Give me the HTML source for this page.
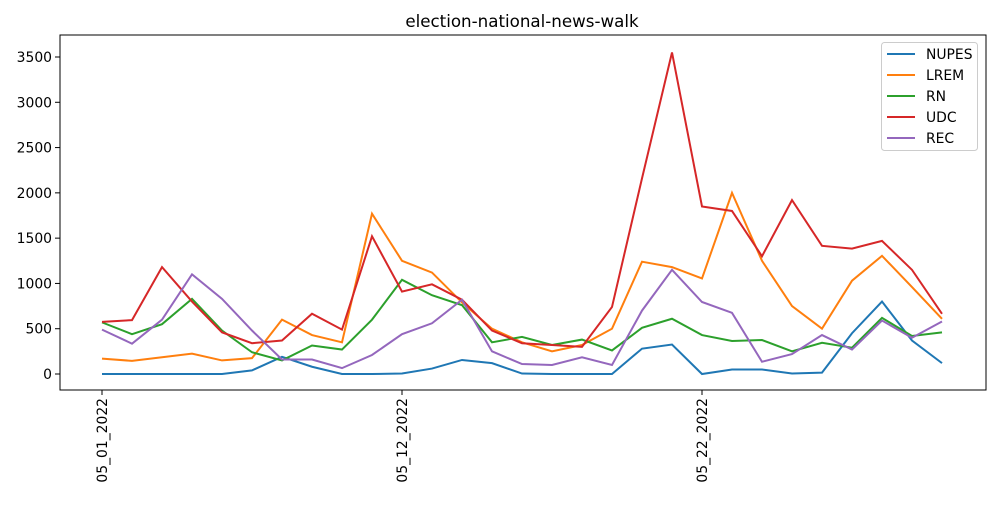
<!DOCTYPE html>
<html><head><meta charset="utf-8"><style>
body{margin:0;background:#fff;font-family:"Liberation Sans","DejaVu Sans",sans-serif;}
svg text{font-family:"DejaVu Sans","Liberation Sans",sans-serif;}
</style></head><body>
<svg id="chart" width="1000" height="500" xmlns="http://www.w3.org/2000/svg"></svg>
<script>
const categories=["05_01_2022","05_02","05_03","05_04","05_05","05_06","05_07","05_08","05_09","05_10","05_12_2022","05_13","05_14","05_15","05_16","05_17","05_18","05_19","05_20","05_21","05_22_2022","05_23","05_24","05_25","05_26","05_27","05_28","05_29","05_30"];
const tickIdx=[0,10,20];
const yTicks=[0,500,1000,1500,2000,2500,3000,3500];
const seriesNames=["NUPES","LREM","RN","UDC","REC"];
const colors=["#1f77b4","#ff7f0e","#2ca02c","#d62728","#9467bd"];
const nupes=[0,0,0,0,0,40,190,80,0,0,5,60,155,120,5,0,0,0,280,325,0,50,50,5,15,450,800,370,120];
const lrem=[170,145,185,225,150,175,600,430,350,1770,1250,1120,790,500,350,250,320,500,1240,1180,1055,2000,1250,750,500,1030,1305,960,610];
const rn=[570,440,550,830,480,240,150,315,270,600,1040,870,760,350,410,320,380,260,510,610,430,365,375,250,345,290,620,420,460];
const udc=[575,595,1180,800,460,340,370,665,490,1520,910,990,820,480,340,320,300,740,2160,3550,1850,1800,1300,1920,1415,1385,1470,1150,665];
const rec=[490,335,600,1100,830,480,160,160,65,210,440,560,820,250,110,100,185,100,700,1150,795,675,135,220,430,270,590,400,580];
const data=[nupes,lrem,rn,udc,rec];

const NS="http://www.w3.org/2000/svg",svg=document.getElementById('chart');
const L=60,R=986,T=35,B=390;
const x=i=>102+i*(840/(categories.length-1));
const y=v=>374-v*(317/3500);
function mk(t,a,p){const e=document.createElementNS(NS,t);for(const k in a)e.setAttribute(k,a[k]);(p||svg).appendChild(e);return e;}
let title=mk('text',{x:522,y:27,'text-anchor':'middle','font-size':16.7});title.textContent="election-national-news-walk";


yTicks.forEach(v=>{
 const t=mk('line',{x1:L-5,x2:L,y1:y(v),y2:y(v),stroke:'#000'});
 
 
 const l=mk('text',{x:L-8,y:y(v)+5,'text-anchor':'end','font-size':13.9});l.textContent=v;
 
 
});
tickIdx.forEach(i=>{
 const t=mk('line',{x1:x(i),x2:x(i),y1:B,y2:B+5,stroke:'#000'});
 
 
 const l=mk('text',{transform:`translate(${x(i)+5},${B+8}) rotate(-90)`,'text-anchor':'end','font-size':13.9});l.textContent=categories[i];
 
 
});
data.forEach((s,k)=>{
 const p=mk('polyline',{points:s.map((v,i)=>x(i)+','+y(v)).join(' '),fill:'none',stroke:colors[k],'stroke-width':2});
 
 
});
const frame=mk('rect',{x:L,y:T,width:R-L,height:B-T,fill:'none',stroke:'#000','stroke-width':1});


const lg=mk('g',{});


mk('rect',{x:881.5,y:42.5,width:96,height:108,rx:3,fill:'#fff',stroke:'#ccc'},lg);
seriesNames.forEach((n,k)=>{
 const g=mk('g',{},lg);
 
 
 const yy=54+k*21;
 mk('line',{x1:887,x2:915,y1:yy,y2:yy,stroke:colors[k],'stroke-width':2},g);
 const t=mk('text',{x:926,y:yy+5,'font-size':13.9},g);t.textContent=n;
});
</script>
</body></html>
